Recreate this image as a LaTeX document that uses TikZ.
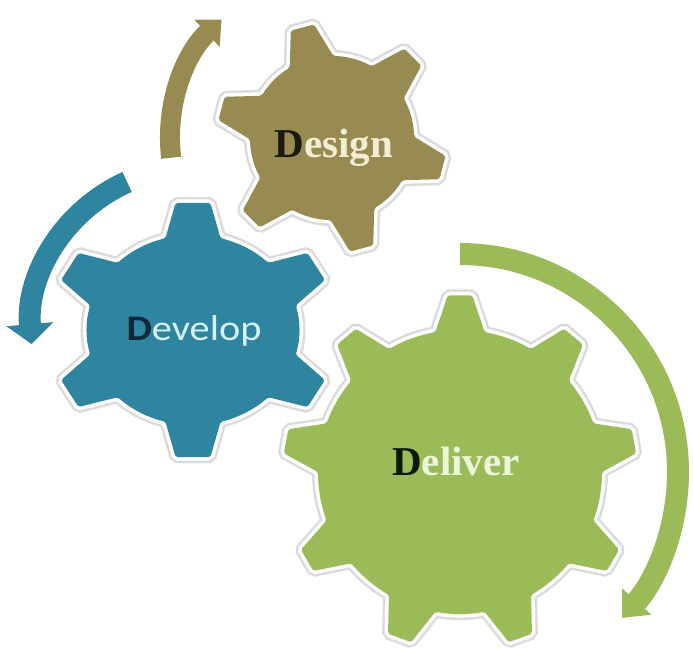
\documentclass[tikz,border=0pt]{standalone}
\usepackage{fontspec}
\setmainfont{Liberation Serif}
\newfontfamily\calibfont{Carlito}
\usetikzlibrary{arrows.meta}

\definecolor{designfill}{RGB}{152,139,82}
\definecolor{developfill}{RGB}{47,132,160}
\definecolor{deliverfill}{RGB}{155,187,89}
\definecolor{designdark}{RGB}{28,26,14}
\definecolor{designlight}{RGB}{242,238,214}
\definecolor{developdark}{RGB}{14,40,60}
\definecolor{developlight}{RGB}{212,240,250}
\definecolor{deliverdark}{RGB}{12,26,5}
\definecolor{deliverlight}{RGB}{236,246,216}

% teeth, first tooth angle, tip radius, root radius, tip half angle, base half angle
\newcommand{\gearshape}[6]{%
  ({#2-#6}:#4)
  \foreach \k [evaluate=\k as \a using #2+(\k-1)*360/#1,
               evaluate=\k as \c using #2+(\k-1)*360/#1+#6,
               evaluate=\k as \d using #2+\k*360/#1-#6] in {1,...,#1} {
    -- ({\a-#5}:#3) -- ({\a+#5}:#3) -- ({\a+#6}:#4)
    arc[start angle=\c, end angle=\d, radius=#4]
  } -- cycle}

\begin{document}
\begin{tikzpicture}[x=1pt,y=-1pt,
  gear/.style={rounded corners=2pt,
    preaction={draw=black!14,line width=12pt},
    preaction={draw=white,line width=7pt}},
  turn/.style={line width=22pt},
  word/.style={anchor=base,font=\bfseries\fontsize{41}{41}\selectfont}]
\useasboundingbox (0,0) rectangle (693,648);
\coordinate (designc) at (332,138);
\coordinate (developc) at (193,330);
\coordinate (deliverc) at (460,472);

% arrows
\draw[turn,line width=20pt,designfill,-{Triangle[width=36pt,length=20pt]}]
  ([shift={(173:162)}]designc) arc[start angle=173, end angle=227, radius=162];
\draw[turn,developfill,-{Triangle[width=46pt,length=20pt]}]
  ([shift={(246:162)}]developc) arc[start angle=246, end angle=175, radius=162];
\draw[turn,deliverfill,-{Triangle[width=38pt,length=22pt]}]
  ([shift={(270:218)}]deliverc) arc[start angle=270, end angle=402, radius=218];

% gears
\begin{scope}[shift={(designc)}]
\fill[gear,designfill] \gearshape{6}{15}{115}{82}{6}{16};
\end{scope}
\begin{scope}[shift={(developc)},xscale=1.12]
\fill[gear,developfill] \gearshape{6}{30}{128}{95}{7}{15};
\end{scope}
\begin{scope}[shift={(deliverc)}]
\fill[gear,deliverfill] \gearshape{9}{30}{177}{142}{4}{10};
\end{scope}

% labels
\node[word] (design) at (334,157) {\textcolor{designdark}{D}\textcolor{designlight}{esign}};
\node[word,font=\calibfont\fontsize{36}{36}\selectfont,xscale=1.12] (develop) at (194,340)
  {\textcolor{developdark}{\bfseries D}\textcolor{developlight}{evelop}};
\node[word] (deliver) at (456,475) {\textcolor{deliverdark}{D}\textcolor{deliverlight}{eliver}};
\end{tikzpicture}
\end{document}
